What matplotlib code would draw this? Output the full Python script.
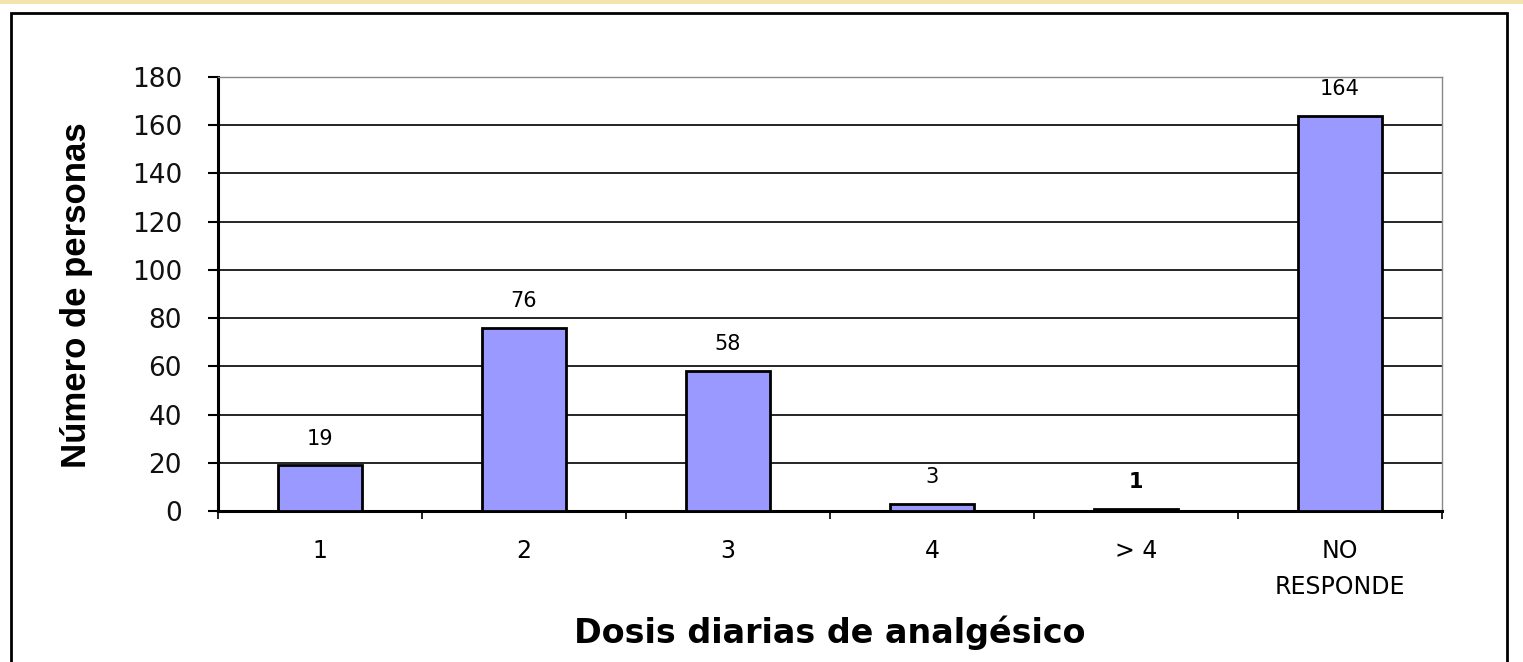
import matplotlib
matplotlib.use("Agg")
import matplotlib.pyplot as plt
from matplotlib.patches import Rectangle
import numpy as np

categories = ["1", "2", "3", "4", "> 4", "NO\nRESPONDE"]
values = [19, 76, 58, 3, 1, 164]
yticks = [0, 20, 40, 60, 80, 100, 120, 140, 160, 180]
xlabel = "Dosis diarias de analgésico"
ylabel = "Número de personas"

W, H = 1523, 662
fig = plt.figure(figsize=(W / 100, H / 100), dpi=100)
fig.patch.set_facecolor("white")

# top decorative band
fig.add_artist(Rectangle((0, 1 - 4 / H), 1, 4 / H, transform=fig.transFigure,
                         facecolor="#f3e3ad", edgecolor="none"))
# outer frame
fig.add_artist(Rectangle((11 / W, -0.05), (1507 - 11) / W, 1 - 13 / H + 0.05,
                         transform=fig.transFigure, facecolor="none",
                         edgecolor="black", linewidth=2))

ax = fig.add_axes([218 / W, 1 - 511 / H, (1442 - 218) / W, (511 - 77) / H])
x = np.arange(len(categories))
ax.bar(x, values, width=0.41, color="#9999ff", edgecolor="black", linewidth=2, zorder=3)
for xi, v in zip(x, values):
    ax.annotate(str(v), (xi, v), xytext=(0, 12), textcoords="offset points",
                ha="center", va="bottom", fontsize=15, family="DejaVu Sans",
                fontweight="bold" if v == 1 else "normal")

ax.set_xlim(-0.5, len(categories) - 0.5)
ax.set_ylim(0, 180)
ax.set_yticks(yticks)
ax.set_yticklabels([str(t) for t in yticks], fontsize=19, family="DejaVu Sans",
                   color="#111111")
ax.yaxis.grid(True, color="black", linewidth=1.2, zorder=0)
ax.set_axisbelow(True)

ax.set_xticks(x)
ax.set_xticklabels(categories, fontsize=17, family="DejaVu Sans", linespacing=1.65,
                   va="top")
ax.tick_params(axis="x", which="major", length=0, pad=20)
ax.set_xticks(np.arange(-0.5, len(categories), 1), minor=True)
ax.tick_params(axis="x", which="minor", length=6, width=1.2, direction="out")
ax.tick_params(axis="y", length=7, width=1.5, direction="out", pad=19)

for s in ["left", "bottom"]:
    ax.spines[s].set_linewidth(2.2)
    ax.spines[s].set_color("black")
for s in ["top", "right"]:
    ax.spines[s].set_linewidth(1)
    ax.spines[s].set_color("#888888")

fig.text(830 / W, 1 - 633 / H, xlabel, fontsize=24, fontweight="bold",
         family="DejaVu Sans", ha="center", va="center")
fig.text(77 / W, 1 - 295 / H, ylabel, fontsize=25, fontweight="bold",
         family="Liberation Sans", ha="center", va="center", rotation=90)

fig.savefig("out.png", dpi=100, facecolor="white")
